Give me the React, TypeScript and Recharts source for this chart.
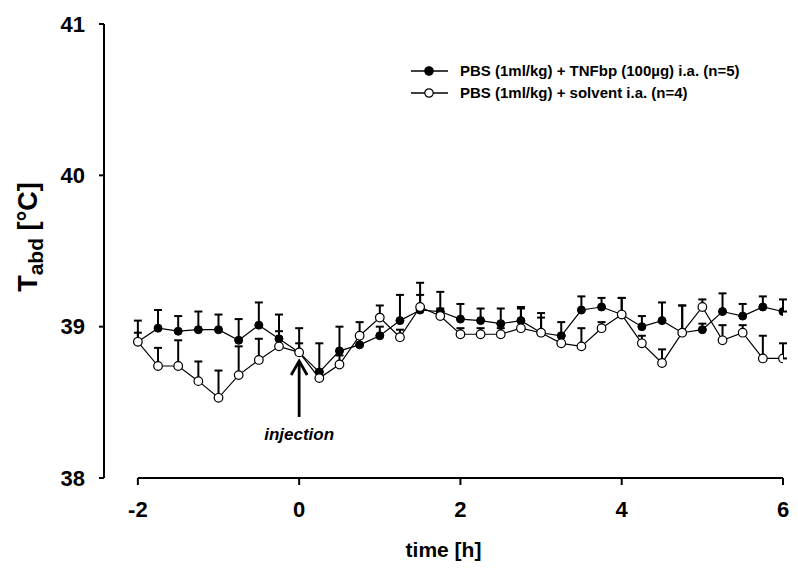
import React from 'react';
import { ComposedChart, Line, XAxis, YAxis, ErrorBar, ReferenceLine, ReferenceDot, Legend, Label } from 'recharts';

const FONT = "'Liberation Sans', Arial, sans-serif";

// sampling times (h), injection at 0
const hours = [
  -2, -1.75, -1.5, -1.25, -1, -0.75, -0.5, -0.25, 0, 0.25, 0.5, 0.75, 1, 1.25, 1.5, 1.75, 2,
  2.25, 2.5, 2.75, 3, 3.25, 3.5, 3.75, 4, 4.25, 4.5, 4.75, 5, 5.25, 5.5, 5.75, 6,
];

// PBS + TNFbp group (filled circles): mean and SEM
const tnfbpMean = [
  38.9, 38.99, 38.97, 38.98, 38.98, 38.91, 39.01, 38.92, 38.83, 38.7, 38.84, 38.88, 38.94, 39.04, 39.11, 39.1, 39.05,
  39.04, 39.02, 39.04, 38.96, 38.94, 39.11, 39.13, 39.08, 39.0, 39.04, 38.96, 38.98, 39.1, 39.07, 39.13, 39.1,
];
const tnfbpSem = [
  0.14, 0.12, 0.1, 0.12, 0.1, 0.14, 0.15, 0.16, 0.16, 0.19, 0.16, 0.05, 0.06, 0.17, 0.1, 0.13, 0.1,
  0.08, 0.1, 0.09, 0.1, 0.09, 0.09, 0.06, 0.11, 0.07, 0.12, 0.18, 0.04, 0.12, 0.08, 0.07, 0.08,
];

// PBS + solvent group (open circles): mean and SEM
const solventMean = [
  38.9, 38.74, 38.74, 38.64, 38.53, 38.68, 38.78, 38.87, 38.83, 38.66, 38.75, 38.94, 39.06, 38.93, 39.13, 39.07, 38.95,
  38.95, 38.95, 38.99, 38.96, 38.89, 38.87, 38.99, 39.08, 38.89, 38.76, 38.96, 39.13, 38.91, 38.96, 38.79, 38.79,
];
const solventSem = [
  0.06, 0.12, 0.17, 0.13, 0.18, 0.19, 0.14, 0.1, 0.06, 0.05, 0.06, 0.09, 0.08, 0.05, 0.16, 0.05, 0.04,
  0.04, 0.04, 0.13, 0.13, 0.05, 0.12, 0.04, 0.11, 0.05, 0.09, 0.18, 0.05, 0.1, 0.05, 0.15, 0.1,
];

const xTicks = [-2, 0, 2, 4, 6];
const yTicks = [38, 39, 40, 41];
const seriesNames = ['PBS (1ml/kg) + TNFbp (100µg) i.a. (n=5)', 'PBS (1ml/kg) + solvent i.a. (n=4)'];

// SEM bars are drawn upward only
const data = hours.map((t, i) => ({
  t,
  tnfbp: tnfbpMean[i],
  tnfbpErr: [0, tnfbpSem[i]],
  solvent: solventMean[i],
  solventErr: [0, solventSem[i]],
}));

function LegendBox() {
  const rows = [
    { name: seriesNames[0], fill: '#000' },
    { name: seriesNames[1], fill: '#fff' },
  ];
  return (
    <div style={{ fontFamily: FONT, fontWeight: 'bold', fontSize: 15, color: '#000', lineHeight: '22px' }}>
      {rows.map((r) => (
        <div key={r.name} style={{ display: 'flex', alignItems: 'center', whiteSpace: 'nowrap' }}>
          <svg width={40} height={14} style={{ marginRight: 10 }}>
            <line x1={1} y1={7} x2={38} y2={7} stroke="#000" strokeWidth={1.5} />
            <circle cx={19} cy={7} r={4.2} fill={r.fill} stroke="#000" strokeWidth={1.2} />
          </svg>
          <span>{r.name}</span>
        </div>
      ))}
    </div>
  );
}

function YTitle(props: any) {
  const vb = props.viewBox || { x: 0, y: 24, width: 104, height: 453 };
  const cx = vb.x + 30;
  const cy = vb.y + vb.height / 2 - 14;
  return (
    <text
      x={cx}
      y={cy}
      transform={`rotate(-90, ${cx}, ${cy})`}
      textAnchor="middle"
      dominantBaseline="middle"
      fontFamily={FONT}
      fontWeight="bold"
      fontSize={27}
      fill="#000"
    >
      <tspan>T</tspan>
      <tspan fontSize={21} dy={7}>abd</tspan>
      <tspan dy={-7}> [°C]</tspan>
    </text>
  );
}

// arrow marking the injection time, tip at the given point
function InjectionArrow(props: any) {
  const { cx, cy } = props;
  if (cx == null || cy == null) return null;
  return (
    <g>
      <line x1={cx} y1={cy + 1} x2={cx} y2={cy + 57} stroke="#000" strokeWidth={2.8} />
      <polyline
        points={`${cx - 8},${cy + 15} ${cx},${cy + 1} ${cx + 8},${cy + 15}`}
        fill="none"
        stroke="#000"
        strokeWidth={2.8}
      />
      <text x={cx} y={cy + 80} textAnchor="middle" fontFamily={FONT} fontWeight="bold" fontStyle="italic" fontSize={17} fill="#000">
        injection
      </text>
    </g>
  );
}

export default function App() {
  const tick = { fill: '#000', fontSize: 22, fontWeight: 'bold', fontFamily: FONT };
  return (
    <div style={{ position: 'absolute', left: 0, top: 0, width: 798, height: 570, background: '#fff' }}>
      <ComposedChart width={798} height={570} data={data} margin={{ top: 24, right: 15, bottom: 0, left: 0 }}>
        <XAxis
          dataKey="t"
          type="number"
          domain={[-2.42, 6]}
          ticks={xTicks}
          interval={0}
          allowDataOverflow
          axisLine={false}
          tickLine={{ stroke: '#000', strokeWidth: 2 }}
          tickSize={7}
          tickMargin={16}
          height={92}
          tick={tick}
        >
          <Label
            value="time [h]"
            position="insideBottom"
            offset={13}
            style={{ fill: '#000', fontSize: 21, fontWeight: 'bold', fontFamily: FONT }}
          />
        </XAxis>
        <YAxis
          domain={[38, 41]}
          ticks={yTicks}
          interval={0}
          allowDataOverflow
          width={104}
          axisLine={{ stroke: '#000', strokeWidth: 2 }}
          tickLine={{ stroke: '#000', strokeWidth: 2 }}
          tickSize={5}
          tickMargin={14}
          tick={tick}
          label={<YTitle />}
        />
        <ReferenceLine
          segment={[{ x: -2, y: 38 }, { x: 6, y: 38 }]}
          stroke="#000"
          strokeWidth={2}
        />
        <ReferenceDot x={0} y={38.78} r={0} shape={<InjectionArrow />} />
        <Line
          dataKey="tnfbp"
          name={seriesNames[0]}
          stroke="#000"
          strokeWidth={1.2}
          dot={{ r: 4, fill: '#000', stroke: '#000', strokeWidth: 1 }}
          activeDot={false}
          isAnimationActive={false}
        >
          <ErrorBar dataKey="tnfbpErr" direction="y" width={4} stroke="#000" strokeWidth={2} />
        </Line>
        <Line
          dataKey="solvent"
          name={seriesNames[1]}
          stroke="#000"
          strokeWidth={1.2}
          dot={{ r: 4.3, fill: '#fff', stroke: '#000', strokeWidth: 1.2 }}
          activeDot={false}
          isAnimationActive={false}
        >
          <ErrorBar dataKey="solventErr" direction="y" width={4} stroke="#000" strokeWidth={2} />
        </Line>
        <Legend
          content={<LegendBox />}
          layout="vertical"
          align="center"
          verticalAlign="middle"
          wrapperStyle={{ top: 60, left: 410, width: 'auto', height: 'auto' }}
        />
      </ComposedChart>
    </div>
  );
}
